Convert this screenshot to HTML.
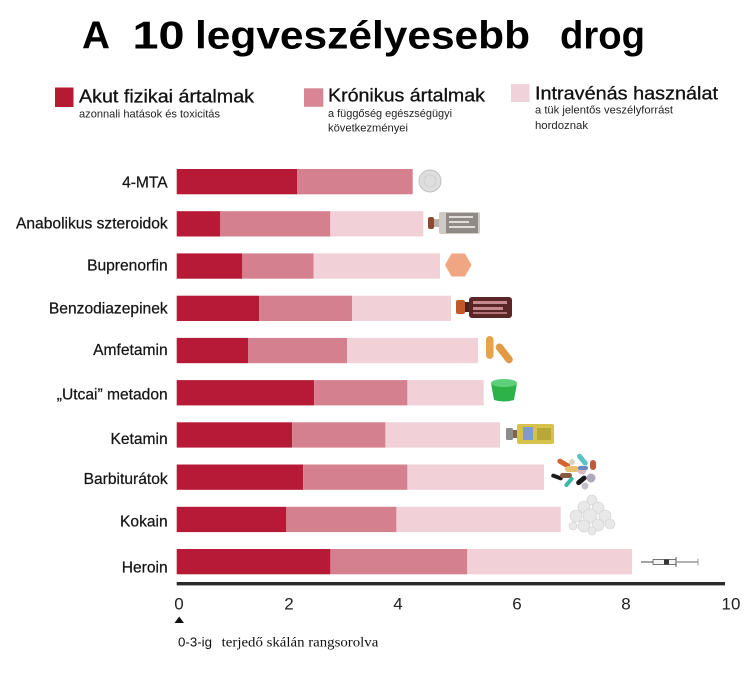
<!DOCTYPE html>
<html>
<head>
<meta charset="utf-8">
<style>
html,body{margin:0;padding:0;background:#fff;}
svg{display:block;}
text{font-family:"Liberation Sans",Arial,sans-serif;}
</style>
</head>
<body>
<svg width="750" height="686" viewBox="0 0 750 686" xmlns="http://www.w3.org/2000/svg">
<rect width="750" height="686" fill="#fff"/>

<!-- Title -->
<g font-weight="bold" font-size="39" fill="#000">
<text x="82" y="48.5" textLength="28" lengthAdjust="spacingAndGlyphs">A</text>
<text x="132.5" y="48.5" textLength="52" lengthAdjust="spacingAndGlyphs">10</text>
<text x="195" y="48.5" textLength="335" lengthAdjust="spacingAndGlyphs">legveszélyesebb</text>
<text x="560" y="48.5" textLength="85" lengthAdjust="spacingAndGlyphs">drog</text>
</g>

<!-- Legend -->
<rect x="55" y="87.5" width="18.5" height="19.5" fill="#b51a35"/>
<text x="79" y="102.3" font-size="18" fill="#111" stroke="#111" stroke-width="0.3" textLength="175" lengthAdjust="spacingAndGlyphs">Akut fizikai ártalmak</text>
<text x="79" y="117.3" font-size="11" fill="#222" textLength="141" lengthAdjust="spacingAndGlyphs">azonnali hatások és toxicitás</text>

<rect x="304" y="88.3" width="19.3" height="18.5" fill="#d98595"/>
<text x="328" y="101.7" font-size="18" fill="#111" stroke="#111" stroke-width="0.3" textLength="157" lengthAdjust="spacingAndGlyphs">Krónikus ártalmak</text>
<text x="328" y="117" font-size="11" fill="#222" textLength="124" lengthAdjust="spacingAndGlyphs">a függőség egészségügyi</text>
<text x="328" y="131.3" font-size="11" fill="#222" textLength="80" lengthAdjust="spacingAndGlyphs">következményei</text>

<rect x="511" y="84" width="18.5" height="18" fill="#f0d3da"/>
<text x="535" y="99.3" font-size="18" fill="#111" stroke="#111" stroke-width="0.3" textLength="183" lengthAdjust="spacingAndGlyphs">Intravénás használat</text>
<text x="535" y="113.5" font-size="11" fill="#222" textLength="138" lengthAdjust="spacingAndGlyphs">a tük jelentős veszélyforrást</text>
<text x="535" y="129" font-size="11" fill="#222" textLength="53" lengthAdjust="spacingAndGlyphs">hordoznak</text>

<!-- Bars -->
<g>
<rect x="176.7" y="169" width="120.6" height="25.3" fill="#b71a37"/>
<rect x="297.3" y="169" width="115.4" height="25.3" fill="#d5808e"/>
<rect x="176.7" y="211.2" width="43.6" height="25.3" fill="#b71a37"/>
<rect x="220.3" y="211.2" width="110" height="25.3" fill="#d5808e"/>
<rect x="330.3" y="211.2" width="93" height="25.3" fill="#f1d0d8"/>
<rect x="176.7" y="253.4" width="65.6" height="25.3" fill="#b71a37"/>
<rect x="242.3" y="253.4" width="71.4" height="25.3" fill="#d5808e"/>
<rect x="313.7" y="253.4" width="126.3" height="25.3" fill="#f1d0d8"/>
<rect x="176.7" y="295.7" width="82.3" height="25.3" fill="#b71a37"/>
<rect x="259" y="295.7" width="93" height="25.3" fill="#d5808e"/>
<rect x="352" y="295.7" width="99" height="25.3" fill="#f1d0d8"/>
<rect x="176.7" y="337.9" width="71.3" height="25.3" fill="#b71a37"/>
<rect x="248" y="337.9" width="99" height="25.3" fill="#d5808e"/>
<rect x="347" y="337.9" width="131" height="25.3" fill="#f1d0d8"/>
<rect x="176.7" y="380.1" width="137.4" height="25.3" fill="#b71a37"/>
<rect x="314.1" y="380.1" width="93.3" height="25.3" fill="#d5808e"/>
<rect x="407.4" y="380.1" width="76.3" height="25.3" fill="#f1d0d8"/>
<rect x="176.7" y="422.3" width="115.4" height="25.3" fill="#b71a37"/>
<rect x="292.1" y="422.3" width="93.3" height="25.3" fill="#d5808e"/>
<rect x="385.4" y="422.3" width="114.6" height="25.3" fill="#f1d0d8"/>
<rect x="176.7" y="464.5" width="126.4" height="25.3" fill="#b71a37"/>
<rect x="303.1" y="464.5" width="104.3" height="25.3" fill="#d5808e"/>
<rect x="407.4" y="464.5" width="136.6" height="25.3" fill="#f1d0d8"/>
<rect x="176.7" y="506.8" width="109.6" height="25.3" fill="#b71a37"/>
<rect x="286.3" y="506.8" width="110.1" height="25.3" fill="#d5808e"/>
<rect x="396.4" y="506.8" width="164.3" height="25.3" fill="#f1d0d8"/>
<rect x="176.7" y="549" width="153.7" height="25.3" fill="#b71a37"/>
<rect x="330.4" y="549" width="136.9" height="25.3" fill="#d5808e"/>
<rect x="467.3" y="549" width="164.7" height="25.3" fill="#f1d0d8"/>
</g>

<!-- Row labels -->
<g font-size="15.6" fill="#151515" stroke="#151515" stroke-width="0.25" text-anchor="end">
<text x="167.7" y="187.3">4-MTA</text>
<text x="167.7" y="228.3">Anabolikus szteroidok</text>
<text x="167.7" y="270.7">Buprenorfin</text>
<text x="167.7" y="313.3">Benzodiazepinek</text>
<text x="167.7" y="355">Amfetamin</text>
<text x="167.7" y="399.3">„Utcai” metadon</text>
<text x="167.7" y="444">Ketamin</text>
<text x="167.7" y="484">Barbiturátok</text>
<text x="167.7" y="526.7">Kokain</text>
<text x="167.7" y="572.3">Heroin</text>
</g>

<!-- Axis -->
<rect x="176.7" y="582" width="548.3" height="3.4" fill="#2a2a2a"/>
<g font-size="17" fill="#222" text-anchor="middle">
<text x="179" y="609.3">0</text>
<text x="289" y="609.3">2</text>
<text x="398" y="609.3">4</text>
<text x="517" y="609.3">6</text>
<text x="626" y="609.3">8</text>
<text x="731" y="609.3">10</text>
</g>
<polygon points="174.5,623 184,623 179.2,616.5" fill="#111"/>
<text x="178" y="646.7" font-size="12.5" fill="#111" textLength="34" lengthAdjust="spacingAndGlyphs">0-3-ig</text>
<text x="221.7" y="646.7" font-size="14" fill="#111" textLength="156.6" lengthAdjust="spacingAndGlyphs" style="font-family:'Liberation Serif',serif">terjedő skálán rangsorolva</text>

<!-- Icons -->
<circle cx="430" cy="181" r="11" fill="#dedede" stroke="#c2c2c2" stroke-width="1"/>
<circle cx="430" cy="181" r="6" fill="none" stroke="#cfcfcf" stroke-width="1"/>

<rect x="428" y="217" width="6" height="12" rx="2" fill="#8c4a32"/>
<rect x="434" y="219" width="5" height="8" fill="#b8b2ac"/>
<rect x="439" y="212" width="41" height="22" rx="2" fill="#cfcac4"/>
<rect x="446" y="213" width="32" height="20" fill="#8f8a86"/>
<rect x="449" y="216" width="24" height="2" fill="#e0dcd8"/>
<rect x="449" y="221" width="20" height="2" fill="#e0dcd8"/>
<rect x="449" y="226" width="26" height="2" fill="#e0dcd8"/>

<polygon points="445,265 451.5,253.5 465,253.5 471.5,265 465,276.5 451.5,276.5" fill="#f0a682"/>

<rect x="456" y="300" width="9" height="14" rx="2" fill="#c0582a"/>
<rect x="465" y="302" width="4" height="10" fill="#4a2020"/>
<rect x="469" y="297" width="43" height="21" rx="3" fill="#5a2628"/>
<rect x="473" y="301" width="34" height="3" fill="#c48a8e"/>
<rect x="473" y="307" width="30" height="3" fill="#c48a8e"/>
<rect x="473" y="312" width="34" height="2" fill="#b07478"/>

<rect x="486" y="336" width="7.5" height="23" rx="3.7" fill="#e8a24a"/>
<rect x="500.5" y="342" width="7.5" height="23" rx="3.7" fill="#e39a45" transform="rotate(-38 504 353.5)"/>

<path d="M491,383 L517,383 L514,400 Q504,403 494,400 Z" fill="#2db24a"/>
<ellipse cx="504" cy="383" rx="13" ry="4" fill="#5fd07a"/>

<rect x="506" y="428" width="7" height="12" rx="1.5" fill="#8c8c8c"/>
<rect x="513" y="430" width="4" height="8" fill="#7a6a40"/>
<rect x="517" y="424" width="37" height="20" rx="2" fill="#d6c24a"/>
<rect x="523" y="427" width="10" height="13" fill="#7f9bd2"/>
<rect x="537" y="428" width="14" height="12" fill="#b8a83a"/>

<g>
<rect x="557" y="461" width="14" height="5" rx="2.5" fill="#d5632e" transform="rotate(30 564 463)"/>
<rect x="575" y="457" width="14" height="5" rx="2.5" fill="#5ac4c0" transform="rotate(50 582 460)"/>
<rect x="565" y="466" width="14" height="6" rx="3" fill="#e8c070"/>
<circle cx="582" cy="470" r="4.5" fill="#d9b9c0"/>
<rect x="590" y="460" width="6" height="10" rx="3" fill="#c45a3a"/>
<rect x="551" y="475" width="12" height="4" rx="2" fill="#1a1a1a" transform="rotate(20 557 477)"/>
<rect x="560" y="473" width="12" height="5" rx="2.5" fill="#8a5a40"/>
<rect x="563" y="480" width="12" height="4" rx="2" fill="#3ab8a8" transform="rotate(-50 569 482)"/>
<rect x="575" y="478" width="12" height="5" rx="2.5" fill="#1a1a1a" transform="rotate(-40 581 480)"/>
<circle cx="591" cy="478" r="4.5" fill="#b0a8b8"/>
<circle cx="585" cy="486" r="3.5" fill="#c8c0c8"/>
<circle cx="572" cy="462" r="3" fill="#e0d0c0"/>
<rect x="578" y="466" width="10" height="4" rx="2" fill="#6a8ac0"/>
</g>

<g fill="#e8e8e8" stroke="#cfcfcf" stroke-width="0.6">
<circle cx="592" cy="500" r="5"/>
<circle cx="584" cy="507" r="6"/>
<circle cx="598" cy="508" r="6"/>
<circle cx="576" cy="516" r="6"/>
<circle cx="590" cy="516" r="7"/>
<circle cx="605" cy="516" r="6"/>
<circle cx="610" cy="524" r="5"/>
<circle cx="598" cy="525" r="6"/>
<circle cx="584" cy="526" r="6"/>
<circle cx="573" cy="526" r="4"/>
<circle cx="592" cy="531" r="4"/>
</g>

<line x1="641" y1="562" x2="653" y2="562" stroke="#444" stroke-width="1"/>
<rect x="653" y="559.5" width="23" height="5" fill="#f4f4f4" stroke="#555" stroke-width="0.8"/>
<rect x="664" y="559.5" width="5" height="5" fill="#333"/>
<line x1="676" y1="557" x2="676" y2="567" stroke="#555" stroke-width="1"/>
<line x1="676" y1="562" x2="698" y2="562" stroke="#999" stroke-width="1.5"/>
<line x1="698" y1="558.5" x2="698" y2="565.5" stroke="#999" stroke-width="1"/>
</svg>
</body>
</html>
